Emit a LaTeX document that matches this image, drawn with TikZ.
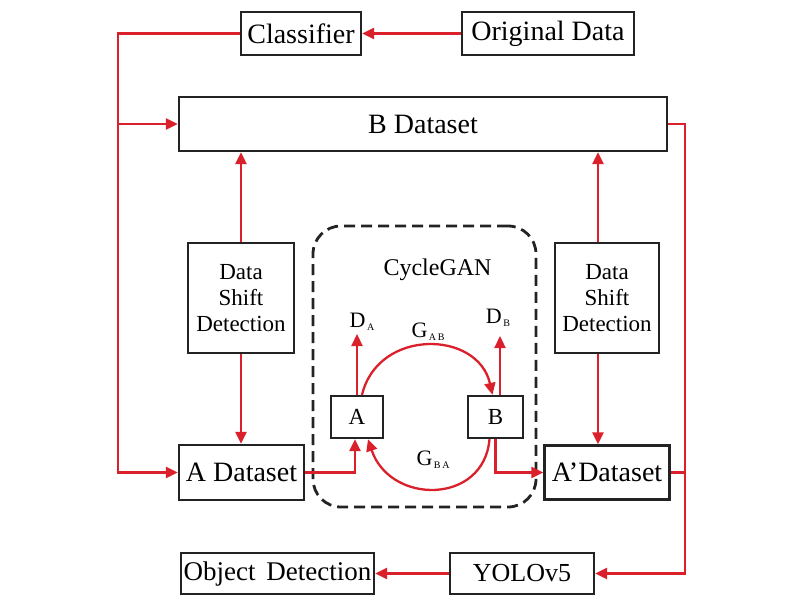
\documentclass[tikz,border=0pt]{standalone}
\usepackage{fontspec}
\setmainfont{Liberation Serif}
\usetikzlibrary{arrows.meta}
\definecolor{lred}{RGB}{218,32,42}
\definecolor{dgray}{RGB}{35,35,35}
\newcommand\gsub[1]{\hspace{1.5pt}\raisebox{-3pt}{\fontsize{10}{10}\selectfont #1}}
\begin{document}
\begin{tikzpicture}[x=1pt,y=-1pt,
  box/.style={draw=dgray,line width=2.3pt,inner sep=0pt,fill=white},
  big/.style={font=\fontsize{28}{30}\selectfont},
  mid/.style={font=\fontsize{23}{26}\selectfont},
  lbl/.style={inner sep=0pt,font=\fontsize{22}{24}\selectfont},
  conn/.style={lred,line width=2.3pt,-{Triangle[length=12pt,width=11pt]}},
  wire/.style={lred,line width=2.3pt},
]
\useasboundingbox (0,0) rectangle (800,600);
% dashed CycleGAN frame
\node[draw=dgray,dashed,dash pattern=on 11pt off 6pt,line width=2.8pt,rounded corners=28pt,
      minimum width=223pt,minimum height=281pt,inner sep=0pt] (cyc) at (424.5,366.5) {};
\node[inner sep=0pt,font=\fontsize{24}{26}\selectfont] (cyclbl) at (437.5,270) {CycleGAN};

% boxes
\node[box,big,minimum width=120pt,minimum height=43pt] (cls) at (301,33.5) {Classifier};
\node[box,big,minimum width=172pt,minimum height=43pt] (orig) at (548,33.5) {Original Data};
\node[box,big,minimum width=488pt,minimum height=54pt] (bd) at (423,124) {B Dataset};
\node[box,mid,align=center,minimum width=106pt,minimum height=110pt] (dsl) at (241,298) {Data\\Shift\\Detection};
\node[box,mid,align=center,minimum width=104pt,minimum height=110pt] (dsr) at (607,298) {Data\\Shift\\Detection};
\node[box,big,minimum width=125pt,minimum height=55pt] (ad) at (241.5,472.5) {A Dataset};
\node[box,big,minimum width=125pt,minimum height=54pt] (ad2) at (607,472.5) {A'Dataset};
\node[box,font=\fontsize{26}{28}\selectfont,minimum width=144pt,minimum height=41pt] (yolo) at (522,573.5) {YOLOv5};
\node[box,font=\fontsize{27}{29}\selectfont,minimum width=193pt,minimum height=41pt] (od) at (277.5,573.5) {Object\hspace{0.4em}Detection};
\node[box,font=\fontsize{23}{25}\selectfont,minimum width=52pt,minimum height=42pt] (A) at (357,417) {A};
\node[box,font=\fontsize{23}{25}\selectfont,minimum width=55pt,minimum height=42pt] (B) at (495.5,417) {B};

% labels inside CycleGAN
\node[lbl] (dA) at (362,322) {D\gsub{A}};
\node[lbl] (dB) at (498,318) {D\gsub{B}};
\node[lbl] (gAB) at (428,332) {G\gsub{A\,B}};
\node[lbl] (gBA) at (433,460) {G\gsub{B\,A}};
\coordinate (tipA) at (357,334);
\coordinate (tipB) at (500,336);
\coordinate (lx) at (118,0);
\coordinate (rx) at (685,0);

% connectors
\draw[conn] (orig.west) -- (cls.east);
\draw[conn] (cls.west) -| (lx |- ad.west) -- (ad.west);
\draw[conn] (lx |- bd.west) -- (bd.west);
\draw[conn] (bd.east) -| (rx |- yolo.east) -- (yolo.east);
\draw[wire] (ad2.east) -- (rx |- ad2.east);
\draw[conn] (yolo.west) -- (od.east);

\draw[conn] (dsl.north) -- (dsl.north |- bd.south);
\draw[conn] (dsl.south) -- (dsl.south |- ad.north);
\draw[conn] ([xshift=-9pt]dsr.north) -- ([xshift=-9pt]dsr.north |- bd.south);
\draw[conn] ([xshift=-9pt]dsr.south) -- ([xshift=-9pt]dsr.south |- ad2.north);

\draw[conn] (ad.east) -| ([xshift=-2pt]A.south);
\draw[conn] (B.south) |- (ad2.west);
\draw[conn] (A.north) -- (tipA);
\draw[conn] ([xshift=4.5pt]B.north) -- (tipB);
\draw[conn] ([xshift=5pt]A.north) .. controls (378,328) and (478,330) .. ([xshift=-3pt]B.north);
\draw[conn] ([xshift=-6pt]B.south) .. controls (484,505) and (390,505) .. ([xshift=11pt]A.south);
\end{tikzpicture}
\end{document}
